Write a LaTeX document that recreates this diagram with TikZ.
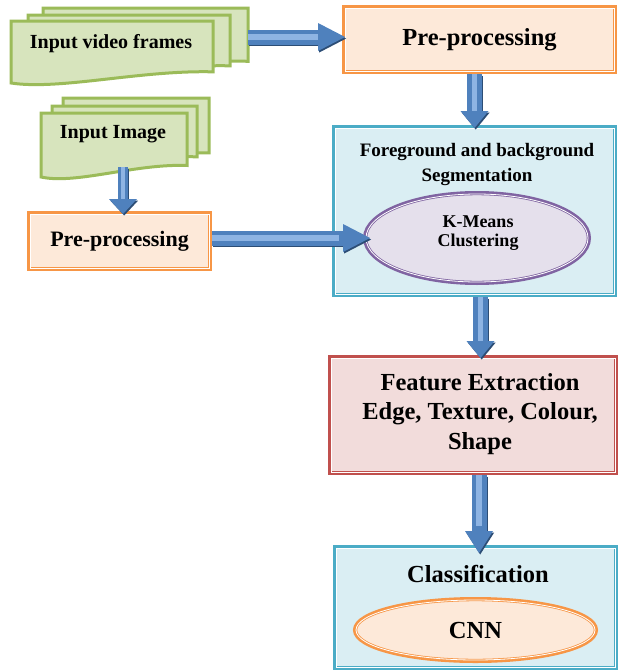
\documentclass[tikz,border=0pt]{standalone}
\usepackage{fontspec}
\setmainfont{Liberation Serif}[BoldFont={Liberation Serif Bold}]
\usetikzlibrary{arrows.meta,shapes.geometric}

\definecolor{grnfill}{HTML}{D7E4BD}
\definecolor{grnline}{HTML}{9BBB59}
\definecolor{orgfill}{HTML}{FDE9D9}
\definecolor{orgline}{HTML}{F79646}
\definecolor{cyfill}{HTML}{DAEEF3}
\definecolor{cyline}{HTML}{4BACC6}
\definecolor{redfill}{HTML}{F2DCDB}
\definecolor{redline}{HTML}{C0504D}
\definecolor{purfill}{HTML}{E5E0EC}
\definecolor{purline}{HTML}{8064A2}
\definecolor{arrmid}{HTML}{4F81BD}
\definecolor{arrdark}{HTML}{2C4D75}
\definecolor{arrlight}{HTML}{8EB4E3}

\newcommand{\fszbig}{\fontsize{24.5}{29.5}\selectfont\bfseries}
\newcommand{\fszmid}{\fontsize{22}{26}\selectfont\bfseries}
\newcommand{\fszin}{\fontsize{20}{24}\selectfont\bfseries}
\newcommand{\fszseg}{\fontsize{19}{25}\selectfont\bfseries}
\newcommand{\fszkm}{\fontsize{18}{19}\selectfont\bfseries}

% one sheet of a stack: x, y, width, height
\newcommand{\docpage}[4]{%
  \draw[page] (#1,#2) -- ++(#3,0) -- ++(0,0.82*#4)
    .. controls +(-0.36*#3,-0.03*#4) and +(0.24*#3,0.12*#4) .. (#1,#2+#4) -- cycle;}

\tikzset{
  page/.style={draw=grnline, fill=grnfill, line width=3pt, line join=miter},
  dbl/.style={draw=#1, line width=0.8pt, double=white, double distance=0.8pt,
    preaction={draw=#1, line width=6pt}},
  box/.style={rectangle, inner sep=0pt, outer sep=0pt, align=center},
  oval/.style={ellipse, inner sep=0pt, outer sep=0pt, align=center},
  flow/.style 2 args={draw=arrmid, line width=#2,
    -{Triangle[length=#1 0 0, width=28pt 0 0, line width=0pt 0 0]},
    preaction={draw=arrdark, line width=#2,
      -{Triangle[length=#1 0 0, width=28pt 0 0, line width=0pt 0 0]},
      transform canvas={shift={(1.2pt,-1.5pt)}}},
    postaction={draw=arrlight, line width=0.35*#2, -, shorten >=#1}}
}

\begin{document}
\begin{tikzpicture}[x=1pt,y=-1pt]

  \useasboundingbox (0,0) rectangle (620,672);

  \docpage{43}{8}{205}{65}
  \docpage{28}{15}{202}{62}
  \docpage{11}{21}{202}{62}
  \docpage{63}{98}{146}{67}
  \docpage{52}{106}{145}{62}
  \docpage{41}{113}{146}{64}

  \node[font=\fszin, anchor=base] (vf) at (111,48) {Input video frames};
  \node[font=\fszin, anchor=base] (im) at (113,138) {Input Image};
  \coordinate (vfout) at (248,37);
  \coordinate (imout) at (123,167);

  \begin{scope}[every node/.style={box}]
    \node[dbl=orgline, fill=orgfill, minimum width=269pt, minimum height=63pt, font=\fszbig] (pre1) at (479.5,39.5) {Pre-processing};
    \node[dbl=orgline, fill=orgfill, minimum width=179pt, minimum height=54pt, font=\fszmid] (pre2) at (119.5,241) {Pre-processing};
    \node[dbl=cyline, fill=cyfill, minimum width=279pt, minimum height=166pt] (seg) at (474.5,211) {};
    \node[dbl=redline, fill=redfill, minimum width=284pt, minimum height=114pt] (feat) at (473,415) {};
    \node[dbl=cyline, fill=cyfill, minimum width=279pt, minimum height=119pt] (cls) at (475.5,607.5) {};
  \end{scope}

  \begin{scope}[every node/.style={oval}]
    \node[dbl=purline, fill=purfill, minimum width=222pt, minimum height=88pt] (km) at (477,238) {};
    \node[dbl=orgline, fill=orgfill, minimum width=239pt, minimum height=60pt, font=\fszbig] (cnn) at (475.5,630) {CNN};
  \end{scope}

  \begin{scope}[every node/.style={align=center}]
    \node[font=\fszseg] (segtxt) at (477,165) {Foreground and background\\Segmentation};
    \node[font=\fszkm] (kmtxt) at (478,233) {K-Means\\Clustering};
    \node[font=\fszbig] (feattxt) at (480,414) {Feature Extraction\\Edge, Texture, Colour,\\Shape};
    \node[font=\fszbig, anchor=base] (clstxt) at (478,582) {Classification};
  \end{scope}

  \draw[flow={27pt}{15pt}] (vfout) -- (vfout -| pre1.west);
  \draw[flow={15pt}{10pt}] (imout) -- (imout |- pre2.north);
  \draw[flow={27pt}{15pt}, shorten <=3pt, shorten >=-4pt] (pre2.east |- km.west) -- (km.west);
  \draw[flow={17pt}{15pt}, shorten <=3pt] (seg.north |- pre1.south) -- (seg.north);
  \draw[flow={17pt}{15pt}, shorten <=3pt] ([xshift=6pt]seg.south) -- ([xshift=6pt]seg.south |- feat.north);
  \draw[flow={22pt}{15pt}, shorten <=3pt, shorten >=-5pt] ([xshift=6pt]feat.south) -- ([xshift=6pt]feat.south |- cls.north);

\end{tikzpicture}
\end{document}
